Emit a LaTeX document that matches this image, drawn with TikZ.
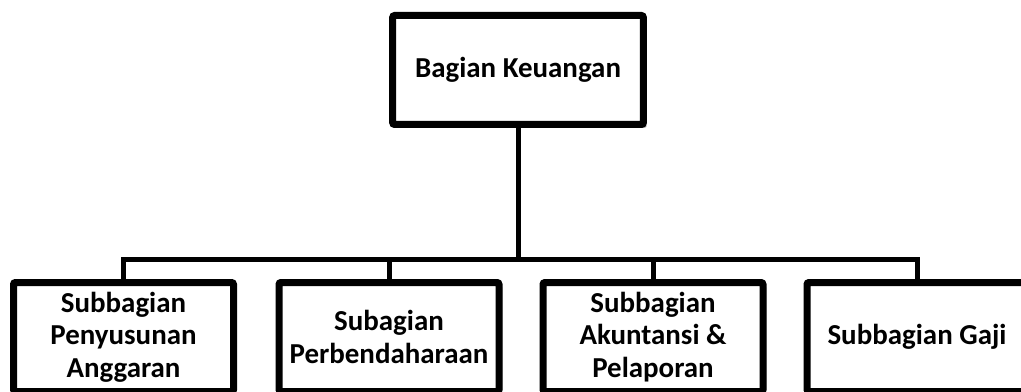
\documentclass[tikz,border=0pt]{standalone}
\usepackage{fontspec}
\setmainfont{Carlito}
\usetikzlibrary{shadows}
\begin{document}
\begin{tikzpicture}[x=0.75pt,y=-0.75pt,
  box/.style={draw=black, line width=5.25pt, fill=white, rounded corners=1.5pt,
    inner sep=0pt, outer sep=0pt, align=center,
    font=\fontsize{21.7}{24.5}\selectfont\bfseries,
    drop shadow={shadow xshift=2.5pt, shadow yshift=-2.5pt, opacity=0.3, fill=black}},
  topbox/.style={box, minimum width=188pt, minimum height=81.75pt},
  subbox/.style={box, minimum width=165pt, minimum height=81.75pt},
  conn/.style={draw=black, line width=3.75pt}]
\useasboundingbox (0,0) rectangle (1021,392);
\fill[white] (0,0) rectangle (1021,392);
\coordinate (bus) at (518,259);
\node[topbox] (top) at (518,70) {Bagian Keuangan};
\node[subbox] (b1) at (123.5,337) {Subbagian\\Penyusunan\\Anggaran};
\node[subbox] (b2) at (389,337) {Subagian\\Perbendaharaan};
\node[subbox] (b3) at (653,337) {Subbagian\\Akuntansi \&\\Pelaporan};
\node[subbox] (b4) at (917,337) {Subbagian Gaji};
\begin{scope}[on background layer/.style={}]
\draw[conn] (top.south) -- (top.south |- bus);
\draw[conn] (b1.north) |- (b4.north |- bus) -- (b4.north);
\draw[conn] (b2.north) -- (b2.north |- bus);
\draw[conn] (b3.north) -- (b3.north |- bus);
\end{scope}
\end{tikzpicture}
\end{document}
